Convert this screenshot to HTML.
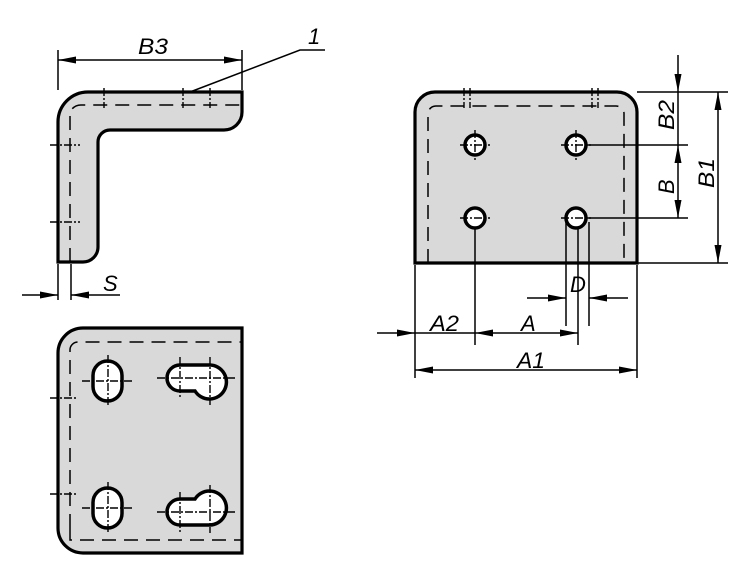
<!DOCTYPE html>
<html><head><style>html,body{margin:0;padding:0;background:#fff;width:750px;height:579px;overflow:hidden}</style></head>
<body>
<svg width="750" height="579" viewBox="0 0 750 579" xmlns="http://www.w3.org/2000/svg" font-family="Liberation Sans, sans-serif" font-style="italic" font-size="22">
<defs>
<marker id="a" viewBox="0 0 18 7" refX="18" refY="3.5" markerWidth="18" markerHeight="7" markerUnits="userSpaceOnUse" orient="auto-start-reverse"><path d="M0,0 L18,3.5 L0,7z" fill="#000"/></marker>
</defs>
<g fill="#d9d9d9" stroke="#000" stroke-width="3.2">
<path d="M58,262 V122 A30,30 0 0 1 88,92 H242 V112 A18,18 0 0 1 224,130 H110 A12,12 0 0 0 98,142 V247 A15,15 0 0 1 83,262 Z"/>
<path d="M58,353 A25,25 0 0 1 83,328 H242 V553 H83 A25,25 0 0 1 58,528 Z"/>
<path d="M415,263 V112 A20,20 0 0 1 435,92 H617 A20,20 0 0 1 637,112 V263 Z"/>
</g>
<g fill="none" stroke="#000" stroke-width="1.5" stroke-dasharray="14,8">
<path d="M70,262 V112 A12,12 0 0 1 82,105 H242"/>
<path d="M70,528 V350 A8,8 0 0 1 78,342 H242"/>
<path d="M70,528 V540 H242" />
<path d="M428,263 V113 A8,8 0 0 1 436,106 H616 A8,8 0 0 1 624,113 V263"/>
</g>
<g fill="#fff" stroke="#000" stroke-width="3.5">
<circle cx="475" cy="145" r="10"/><circle cx="576" cy="145" r="10"/>
<circle cx="475" cy="218" r="10"/><circle cx="576" cy="218" r="10"/>
<rect x="93" y="361" width="29" height="40" rx="14.5"/>
<rect x="93" y="488" width="29" height="40" rx="14.5"/>
<path d="M180,365 H210 A17,17 0 1 1 195,391 H180 A13,13 0 0 1 180,365 Z"/>
<path d="M180,525 H210 A17,17 0 1 0 195,499 H180 A13,13 0 0 0 180,525 Z"/>
</g>
<g stroke="#000" stroke-width="1.4" fill="none" stroke-dasharray="8,2,2,2">
<path d="M460,145 H490 M475,130 V160 M561,145 H591 M576,130 V160 M460,218 H490 M561,218 H591"/>
<path d="M82,381 H133 M108,355 V407 M82,508 H133 M108,482 V534"/>
<path d="M157,378 H236 M180,357 V398 M210,357 V405 M157,512 H236 M180,492 V533 M210,485 V533"/>
<path d="M50,145 H80 M50,222 H80 M50,398 H78 M50,494 H78"/>
<path d="M104,88 V108 M183,88 V108 M210,88 V108 M464,88 V108 M470,88 V108 M592,88 V108 M598,88 V108"/>
</g>
<g stroke="#000" stroke-width="1.5" fill="none">
<path d="M58,50 V90 M242,50 V90"/>
<path d="M58,60 H242" marker-start="url(#a)" marker-end="url(#a)"/>
<path d="M190,92 L300,50 H325"/>
<path d="M58,264 V300 M71,264 V300"/>
<path d="M22,295 H58" marker-end="url(#a)"/><path d="M120,295 H71" marker-end="url(#a)"/>
<path d="M637,92 H728 M586,145 H688 M586,218 H688 M637,263 H728"/>
<path d="M678,55 V92" marker-end="url(#a)"/>
<path d="M678,145 V218" marker-start="url(#a)" marker-end="url(#a)"/>
<path d="M678,92 V145"/>
<path d="M718,92 V263" marker-start="url(#a)" marker-end="url(#a)"/>
<path d="M566,222 V326 M589,222 V326 M578,228 V345 M475,228 V345 M415,265 V378 M637,265 V378"/>
<path d="M527,298 H566" marker-end="url(#a)"/><path d="M628,298 H589" marker-end="url(#a)"/>
<path d="M377,333 H415" marker-end="url(#a)"/>
<path d="M415,333 H475"/>
<path d="M475,333 H578" marker-start="url(#a)" marker-end="url(#a)"/>
<path d="M415,370 H637" marker-start="url(#a)" marker-end="url(#a)"/>
</g>
<g fill="#000">
<text x="138" y="54" textLength="30" lengthAdjust="spacingAndGlyphs">B3</text>
<text x="308" y="44">1</text>
<text x="103" y="291">S</text>
<text x="430" y="331" textLength="29" lengthAdjust="spacingAndGlyphs">A2</text>
<text x="521" y="331">A</text>
<text x="517" y="368" textLength="28" lengthAdjust="spacingAndGlyphs">A1</text>
<text x="570" y="292">D</text>
<text transform="translate(674,130) rotate(-90)" textLength="30" lengthAdjust="spacingAndGlyphs">B2</text>
<text transform="translate(674,194) rotate(-90)">B</text>
<text transform="translate(714,188) rotate(-90)" textLength="30" lengthAdjust="spacingAndGlyphs">B1</text>
</g>
</svg>
</body></html>
